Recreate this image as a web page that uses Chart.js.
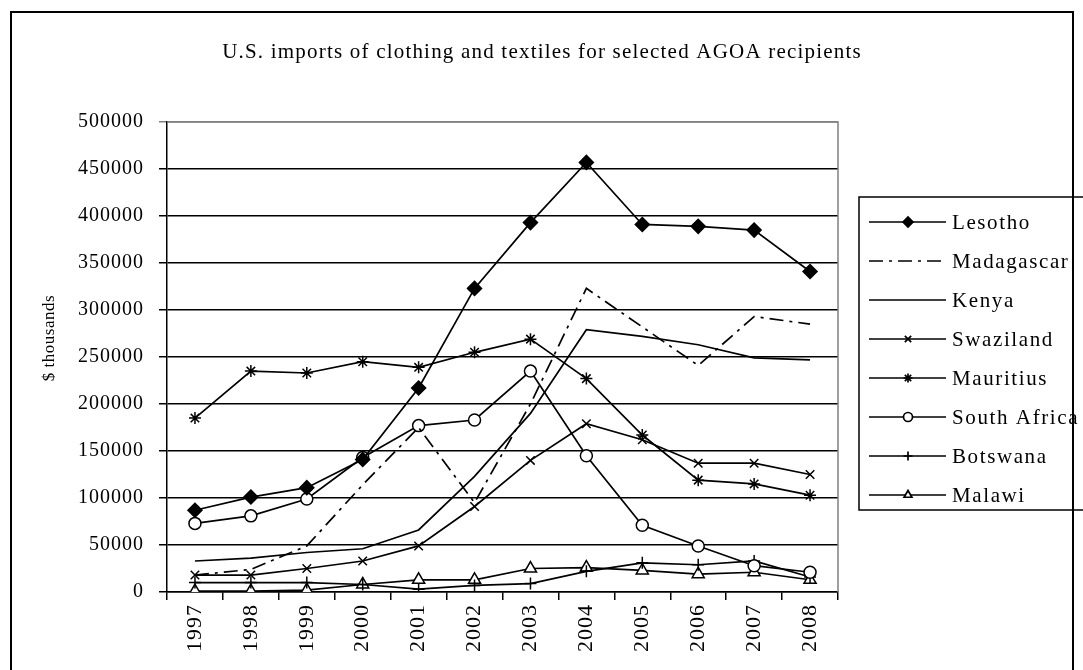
<!DOCTYPE html>
<html>
<head>
<meta charset="utf-8">
<script src="https://cdn.jsdelivr.net/npm/chart.js@4"></script>
<style>
  html, body { margin: 0; padding: 0; background: #fff; }
  canvas { display: block; }
</style>
</head>
<body>
<canvas id="agoa-chart" width="1083" height="670"></canvas>
<script>
const years = ['1997', '1998', '1999', '2000', '2001', '2002', '2003', '2004', '2005', '2006', '2007', '2008']
const lesotho = [87000, 101000, 111000, 141000, 217000, 323000, 393000, 457000, 391000, 389000, 385000, 341000]
const madagascar = [18000, 24000, 49000, 114000, 175000, 95000, 200000, 323000, 282000, 241000, 293000, 285000]
const kenya = [33000, 36000, 42000, 46000, 66000, 123000, 190000, 279000, 272000, 263000, 249000, 247000]
const swaziland = [18000, 18000, 25000, 33000, 49000, 91000, 140000, 179000, 162000, 137000, 137000, 125000]
const mauritius = [185000, 235000, 233000, 245000, 239000, 255000, 269000, 227000, 167000, 119000, 115000, 103000]
const southAfrica = [73000, 81000, 99000, 143000, 177000, 183000, 235000, 145000, 71000, 49000, 28000, 21000]
const botswana = [10000, 10000, 10000, 8000, 3000, 7000, 9000, 22000, 31000, 29000, 33000, 16000]
const malawi = [1000, 1000, 2000, 8000, 13000, 13000, 25000, 26000, 23000, 19000, 21000, 13000]

const yTicks = [0, 50000, 100000, 150000, 200000, 250000, 300000, 350000, 400000, 450000, 500000]

const chartTitle = 'U.S. imports of clothing and textiles for selected AGOA recipients'
const yTitle = '$ thousands'

const FONT = '"Liberation Serif", "Times New Roman", serif'

function series(label, data, style) {
    return Object.assign({
        label: label,
        data: data,
        borderColor: '#000',
        borderWidth: 1.7,
        tension: 0,
        pointRadius: 6,
        pointHoverRadius: 6,
        pointBorderColor: '#000',
        pointBorderWidth: 1.5,
        pointBackgroundColor: '#fff',
        pointStyle: false,
        fill: false,
    }, style)
}

const datasets = [
    series('Lesotho', lesotho, {pointStyle: 'rectRot', pointBackgroundColor: '#000', pointRadius: 7}),
    series('Madagascar', madagascar, {borderDash: [14, 6, 3, 6]}),
    series('Kenya', kenya, {}),
    series('Swaziland', swaziland, {pointStyle: 'crossRot'}),
    series('Mauritius', mauritius, {pointStyle: 'star'}),
    series('South Africa', southAfrica, {pointStyle: 'circle'}),
    series('Botswana', botswana, {pointStyle: 'cross'}),
    series('Malawi', malawi, {pointStyle: 'triangle', pointRadius: 7}),
]

// the reference text is set a bit wide, so space letters out a little
const spacing = {
    id: 'spacing',
    beforeDraw(chart) {
        chart.ctx.letterSpacing = '1px'
    }
}

// frame, titles and the boxed legend on the right
const decorations = {
    id: 'decorations',
    afterDraw(chart) {
        const {ctx, chartArea} = chart
        ctx.save()

        // outer frame
        ctx.strokeStyle = '#000'
        ctx.lineWidth = 2
        ctx.strokeRect(11, 12, 1062, 700)

        // plot area top / right edge (grey)
        ctx.strokeStyle = '#808080'
        ctx.lineWidth = 1.5
        ctx.beginPath()
        ctx.moveTo(chartArea.left, chartArea.top)
        ctx.lineTo(chartArea.right, chartArea.top)
        ctx.lineTo(chartArea.right, chartArea.bottom)
        ctx.stroke()

        // title
        ctx.fillStyle = '#000'
        ctx.letterSpacing = '1.2px'
        ctx.font = '21px ' + FONT
        ctx.textAlign = 'center'
        ctx.textBaseline = 'middle'
        ctx.fillText(chartTitle, 542, 52)

        // y axis title
        ctx.save()
        ctx.letterSpacing = '0.5px'
        ctx.font = '17px ' + FONT
        ctx.translate(50, 338)
        ctx.rotate(-Math.PI / 2)
        ctx.fillText(yTitle, 0, 0)
        ctx.restore()

        // legend
        ctx.strokeStyle = '#000'
        ctx.lineWidth = 1.5
        ctx.strokeRect(859, 197, 240, 313)
        ctx.textAlign = 'left'
        ctx.letterSpacing = '1.6px'
        ctx.font = '21px ' + FONT
        chart.data.datasets.forEach((ds, i) => {
            const y = 222 + i * 39
            ctx.lineWidth = 1.7
            ctx.setLineDash(ds.borderDash || [])
            ctx.beginPath()
            ctx.moveTo(869, y)
            ctx.lineTo(946, y)
            ctx.stroke()
            ctx.setLineDash([])
            if (ds.pointStyle) {
                ctx.fillStyle = ds.pointBackgroundColor
                ctx.strokeStyle = '#000'
                Chart.helpers.drawPoint(ctx, {
                    pointStyle: ds.pointStyle,
                    radius: ds.pointStyle === 'rectRot' ? 5 : 4.5,
                    borderWidth: 1.5,
                    rotation: 0,
                }, 908, y)
            }
            ctx.fillStyle = '#000'
            ctx.fillText(ds.label, 952, y + 1)
        })
        ctx.restore()
    }
}

const ctx = document.getElementById('agoa-chart')
new Chart(ctx, {
    type: 'line',
    data: {labels: years, datasets: datasets},
    plugins: [spacing, decorations],
    options: {
        responsive: false,
        animation: false,
        devicePixelRatio: 1,
        layout: {padding: {left: 35, top: 122, right: 245, bottom: 0}},
        plugins: {
            legend: {display: false},
            title: {display: false},
            tooltip: {enabled: false},
        },
        scales: {
            x: {
                offset: true,
                afterFit: (scale) => { scale.height = 78 },
                border: {color: '#000', width: 1.5},
                grid: {
                    offset: true,
                    drawOnChartArea: false,
                    drawTicks: true,
                    tickLength: 8,
                    color: '#000',
                    lineWidth: 1.5,
                },
                ticks: {
                    minRotation: 90,
                    maxRotation: 90,
                    padding: 4,
                    color: '#000',
                    font: {family: FONT, size: 22},
                },
            },
            y: {
                min: 0,
                max: 500000,
                afterFit: (scale) => { scale.width = 132 },
                afterBuildTicks: (scale) => { scale.ticks = yTicks.map(v => ({value: v})) },
                border: {color: '#000', width: 1.5},
                grid: {
                    color: (c) => c.tick && c.tick.value === 500000 ? '#808080' : '#000',
                    lineWidth: 1.5,
                    tickLength: 8,
                },
                ticks: {
                    padding: 15,
                    color: '#000',
                    font: {family: FONT, size: 20},
                    callback: (v) => String(v),
                },
            },
        },
    },
})
</script>
</body>
</html>
